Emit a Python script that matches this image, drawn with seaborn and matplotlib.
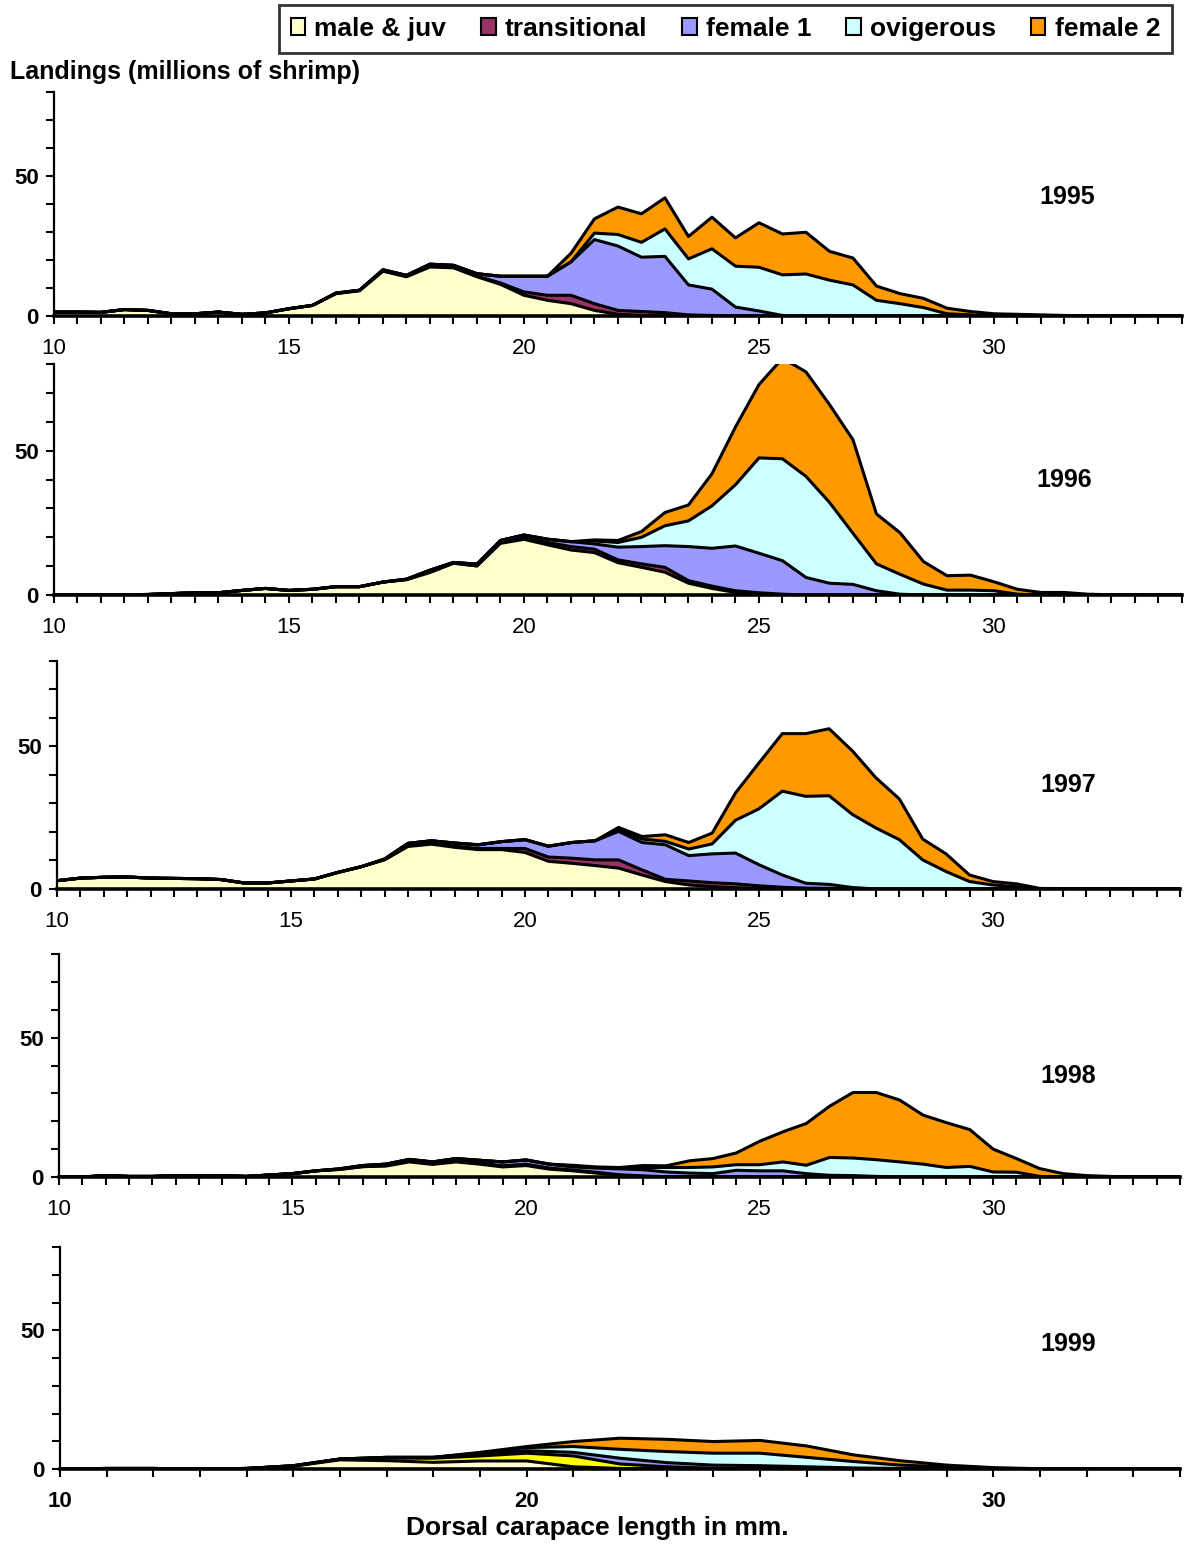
import numpy as np
import pandas as pd
import seaborn as sns
import matplotlib.pyplot as plt
from matplotlib.patches import Patch

sns.set_style('white')
plt.rcParams['font.family'] = ['Liberation Sans', 'DejaVu Sans']
plt.rcParams['text.color'] = 'black'
plt.rcParams['xtick.color'] = 'black'
plt.rcParams['ytick.color'] = 'black'

# carapace length classes (mm)
length = np.arange(10, 34.01, 0.5)
length_1999 = np.arange(10, 34.01, 1.0)

stages = ['male & juv', 'transitional', 'female 1', 'ovigerous', 'female 2']
colors = ['#FFFFCC', '#993366', '#9999FF', '#CCFFFF', '#FF9900']
colors_1999 = ['#FFFFCC', '#FFFF00', '#9999FF', '#CCFFFF', '#FF9900']

# landings, millions of shrimp
male_1995 = [1.4, 1.4, 1.3, 2.3, 2.0, 0.8, 0.8, 1.4, 0.6, 1.1,
             2.6, 3.8, 8.0, 9.0, 16.0, 14.0, 17.5, 17.2, 14.0, 11.3,
             7.4, 5.6, 4.4, 2.0, 0.6, 0.2, 0, 0, 0, 0,
             0, 0, 0, 0, 0, 0, 0, 0, 0, 0,
             0, 0, 0, 0, 0, 0, 0, 0, 0]
trans_1995 = [0, 0, 0, 0, 0, 0, 0, 0, 0, 0,
              0, 0, 0, 0.1, 0.2, 0.2, 0.3, 0.3, 0.3, 0.5,
              1.2, 1.8, 3.0, 2.4, 1.4, 1.4, 1.2, 0.4, 0.2, 0,
              0, 0, 0, 0, 0, 0, 0, 0, 0, 0,
              0, 0, 0, 0, 0, 0, 0, 0, 0]
fem1_1995 = [0, 0, 0, 0, 0, 0, 0, 0, 0, 0,
             0, 0, 0.2, 0.1, 0.3, 0.3, 0.7, 0.6, 0.8, 2.4,
             5.6, 6.8, 11.9, 22.9, 23.0, 19.4, 20.1, 10.7, 9.4, 3.2,
             1.8, 0.2, 0, 0, 0, 0, 0, 0, 0, 0,
             0, 0, 0, 0, 0, 0, 0, 0, 0]
ovig_1995 = [0, 0, 0, 0, 0, 0, 0, 0, 0, 0,
             0, 0, 0, 0, 0, 0, 0, 0, 0, 0,
             0, 0, 0, 2.3, 4.1, 5.3, 9.8, 9.3, 14.4, 14.6,
             15.6, 14.5, 15.0, 12.8, 11.1, 5.6, 4.4, 3.0, 0.8, 0.4,
             0, 0, 0, 0, 0, 0, 0, 0, 0]
fem2_1995 = [0, 0, 0, 0, 0, 0, 0, 0, 0, 0,
             0, 0, 0, 0, 0, 0, 0, 0, 0, 0,
             0, 0, 3.1, 5.1, 9.8, 10.2, 11.1, 8.0, 11.3, 10.1,
             15.9, 14.6, 14.9, 10.3, 9.6, 5.1, 3.6, 3.3, 2.0, 1.2,
             0.8, 0.6, 0.4, 0.2, 0.1, 0, 0, 0, 0]

male_1996 = [0, 0, 0, 0.1, 0.2, 0.5, 0.8, 0.8, 1.6, 2.3,
             1.6, 2.0, 2.9, 2.9, 4.5, 5.3, 7.8, 11.0, 10.1, 17.9,
             19.3, 17.4, 15.6, 14.7, 11.2, 9.6, 7.9, 4.1, 2.3, 0.9,
             0.2, 0, 0, 0, 0, 0, 0, 0, 0, 0,
             0, 0, 0, 0, 0, 0, 0, 0, 0]
trans_1996 = [0, 0, 0, 0, 0, 0, 0, 0, 0, 0,
              0, 0, 0, 0, 0, 0.1, 0.3, 0.1, 0, 0.3,
              0.5, 0.8, 1.2, 1.2, 1.0, 1.2, 1.7, 0.9, 0.8, 0.6,
              0.6, 0.3, 0, 0, 0, 0, 0, 0, 0, 0,
              0, 0, 0, 0, 0, 0, 0, 0, 0]
fem1_1996 = [0, 0, 0, 0, 0, 0, 0, 0, 0, 0,
             0, 0, 0, 0, 0, 0.1, 0.5, 0.2, 0.6, 0.7,
             1.0, 1.1, 1.7, 1.8, 4.4, 6.0, 7.5, 11.8, 13.1, 15.5,
             13.7, 11.6, 6.1, 4.1, 3.7, 1.5, 0.3, 0, 0, 0,
             0, 0, 0, 0, 0, 0, 0, 0, 0]
ovig_1996 = [0, 0, 0, 0, 0, 0, 0, 0, 0, 0,
             0, 0, 0, 0, 0, 0, 0, 0, 0, 0,
             0, 0, 0, 1.0, 1.6, 3.2, 6.9, 8.9, 14.7, 21.2,
             33.0, 35.3, 35.0, 28.0, 17.7, 9.3, 6.9, 3.8, 1.7, 1.7,
             1.5, 0.3, 0, 0, 0, 0, 0, 0, 0]
fem2_1996 = [0, 0, 0, 0, 0, 0, 0, 0, 0, 0,
             0, 0, 0, 0, 0, 0, 0, 0, 0, 0,
             0, 0.1, 0, 0.4, 0.7, 2.0, 4.6, 5.5, 11.1, 20.0,
             25.4, 34.8, 36.2, 33.9, 32.4, 17.3, 14.4, 7.8, 5.0, 5.2,
             3.1, 1.7, 0.9, 0.9, 0.3, 0.1, 0, 0, 0]

male_1997 = [2.9, 3.8, 4.1, 4.2, 3.8, 3.7, 3.6, 3.3, 2.1, 2.1,
             2.8, 3.5, 5.8, 7.8, 10.2, 14.9, 15.7, 14.6, 13.8, 13.8,
             12.8, 9.7, 9.0, 8.2, 7.3, 4.9, 2.6, 1.4, 0.8, 0.4,
             0.2, 0, 0, 0, 0, 0, 0, 0, 0, 0,
             0, 0, 0, 0, 0, 0, 0, 0, 0]
trans_1997 = [0, 0, 0, 0, 0, 0, 0, 0, 0, 0,
              0, 0, 0, 0, 0.1, 0.4, 0.4, 0.4, 0.4, 0.4,
              1.4, 1.5, 1.8, 2.0, 2.9, 1.8, 0.8, 1.4, 1.4, 1.4,
              0.9, 0.6, 0.3, 0.2, 0, 0, 0, 0, 0, 0,
              0, 0, 0, 0, 0, 0, 0, 0, 0]
fem1_1997 = [0, 0, 0, 0, 0, 0, 0, 0, 0, 0,
             0, 0, 0, 0, 0.2, 0.7, 0.8, 1.1, 1.3, 2.4,
             3.1, 3.8, 5.5, 6.7, 10.0, 9.6, 12.1, 8.9, 10.1, 10.8,
             7.4, 4.3, 1.7, 1.4, 0.5, 0, 0, 0, 0, 0,
             0, 0, 0, 0, 0, 0, 0, 0, 0]
ovig_1997 = [0, 0, 0, 0, 0, 0, 0, 0, 0, 0,
             0, 0, 0, 0, 0, 0, 0, 0, 0, 0,
             0, 0, 0, 0, 0.6, 1.2, 1.2, 2.3, 3.5, 11.5,
             19.6, 29.4, 30.5, 31.1, 25.6, 21.4, 17.3, 10.2, 6.1, 2.6,
             1.4, 0.8, 0, 0, 0, 0, 0, 0, 0]
fem2_1997 = [0, 0, 0, 0, 0, 0, 0, 0, 0, 0,
             0, 0, 0, 0, 0, 0, 0, 0, 0, 0,
             0, 0, 0, 0, 0.8, 0.9, 2.3, 2.3, 3.8, 9.6,
             16.1, 20.2, 22.0, 23.5, 22.3, 17.6, 14.3, 7.3, 6.2, 2.3,
             1.2, 1.0, 0.2, 0.1, 0, 0, 0, 0, 0]

male_1998 = [0, 0, 0.5, 0.2, 0.2, 0.5, 0.5, 0.5, 0.2, 0.7,
             1.2, 2.2, 2.7, 3.7, 3.9, 5.4, 4.5, 5.4, 4.6, 3.6,
             4.1, 2.8, 2.2, 1.4, 0.6, 0.2, 0, 0, 0, 0,
             0, 0, 0, 0, 0, 0, 0, 0, 0, 0,
             0, 0, 0, 0, 0, 0, 0, 0, 0]
trans_1998 = [0, 0, 0, 0, 0, 0, 0, 0, 0, 0,
              0, 0, 0, 0, 0.2, 0.3, 0.3, 0.4, 0.4, 0.4,
              0.5, 0.4, 0.3, 0.3, 0.2, 0.2, 0.1, 0, 0, 0,
              0, 0, 0, 0, 0, 0, 0, 0, 0, 0,
              0, 0, 0, 0, 0, 0, 0, 0, 0]
fem1_1998 = [0, 0, 0, 0, 0, 0, 0, 0, 0, 0,
             0, 0, 0.2, 0.4, 0.5, 0.6, 0.6, 0.8, 1.0, 1.4,
             1.5, 1.4, 1.1, 1.5, 2.1, 2.2, 1.7, 1.4, 1.2, 2.4,
             2.2, 2.2, 1.2, 0.6, 0.5, 0.2, 0, 0, 0, 0,
             0, 0, 0, 0, 0, 0, 0, 0, 0]
ovig_1998 = [0, 0, 0, 0, 0, 0, 0, 0, 0, 0,
             0, 0, 0, 0, 0, 0, 0, 0, 0, 0,
             0, 0, 0.3, 0.2, 0.3, 0.8, 1.6, 2.0, 2.4, 2.0,
             2.2, 3.2, 3.0, 6.4, 6.3, 6.0, 5.4, 4.6, 3.4, 3.8,
             1.8, 1.7, 0.2, 0, 0, 0, 0, 0, 0]
fem2_1998 = [0, 0, 0, 0, 0, 0, 0, 0, 0, 0,
             0, 0, 0, 0, 0, 0, 0, 0, 0, 0,
             0, 0, 0.3, 0.2, 0.2, 0.7, 0.6, 2.4, 3.0, 4.2,
             8.4, 10.8, 15.0, 18.4, 23.5, 24.1, 22.2, 17.6, 16.1, 13.2,
             8.2, 4.9, 2.8, 1.2, 0.5, 0.2, 0, 0, 0]

# 1999 is reported in 1 mm classes
male_1999 = [0, 0.2, 0.2, 0, 0.2, 1.0, 3.3, 3.0, 2.4, 2.9,
             2.9, 0.8, 0.2, 0, 0, 0, 0, 0, 0, 0,
             0, 0, 0, 0, 0]
trans_1999 = [0, 0, 0, 0, 0, 0.1, 0.3, 0.9, 1.5, 1.8,
              2.8, 3.9, 1.6, 0.8, 0.3, 0, 0, 0, 0, 0,
              0, 0, 0, 0, 0]
fem1_1999 = [0, 0, 0, 0, 0, 0.1, 0, 0.3, 0.3, 0.8,
             0.9, 1.3, 2.1, 1.5, 1.1, 1.2, 0.8, 0.4, 0.2, 0,
             0, 0, 0, 0, 0]
ovig_1999 = [0, 0, 0, 0, 0, 0, 0, 0, 0, 0.3,
             1.1, 2.1, 3.2, 4.0, 4.3, 4.5, 3.4, 2.3, 1.2, 0.8,
             0.2, 0, 0, 0, 0]
fem2_1999 = [0, 0, 0, 0, 0, 0, 0, 0, 0, 0.2,
             0.4, 1.8, 4.0, 4.4, 4.2, 4.6, 4.1, 2.4, 1.6, 0.6,
             0.3, 0.1, 0, 0, 0]

years = ['1995', '1996', '1997', '1998', '1999']
year_pos = [(31.55, 42.5), (31.5, 40.0), (31.6, 36.6), (31.6, 36.3), (31.6, 45.0)]

# axes rectangles in figure fraction (left, bottom, width, height)
rects = [(0.0455, 0.7956, 0.9511, 0.1449),
         (0.0455, 0.6151, 0.9511, 0.1494),
         (0.0481, 0.4250, 0.9469, 0.1475),
         (0.0497, 0.2387, 0.9452, 0.1442),
         (0.0506, 0.0498, 0.9444, 0.1436)]

panels = [
    (length, [male_1995, trans_1995, fem1_1995, ovig_1995, fem2_1995], colors),
    (length, [male_1996, trans_1996, fem1_1996, ovig_1996, fem2_1996], colors),
    (length, [male_1997, trans_1997, fem1_1997, ovig_1997, fem2_1997], colors),
    (length, [male_1998, trans_1998, fem1_1998, ovig_1998, fem2_1998], colors),
    (length_1999, [male_1999, trans_1999, fem1_1999, ovig_1999, fem2_1999], colors_1999),
]

fig = plt.figure(figsize=(11.86, 15.46), dpi=100)

for i, (x, series, cols) in enumerate(panels):
    ax = fig.add_axes(rects[i])
    df = pd.DataFrame(dict(zip(stages, series)), index=x)
    cum = df.cumsum(axis=1)
    lower = np.zeros(len(x))
    for st, c in zip(stages, cols):
        ax.fill_between(x, lower, cum[st].values, facecolor=c, edgecolor='none', zorder=1)
        lower = cum[st].values
    for st in stages:
        sns.lineplot(x=x, y=cum[st].values, ax=ax, color='black', lw=2.2, zorder=2)

    for s in ['top', 'right']:
        ax.spines[s].set_visible(False)
    ax.spines['left'].set_linewidth(1.6)
    ax.spines['bottom'].set_linewidth(2.6)
    ax.spines['left'].set_color('black')
    ax.spines['bottom'].set_color('black')

    ax.set_yticks([0, 50])
    ax.set_yticks(np.arange(10, 81, 10), minor=True)
    if i < 4:
        ax.set_xticks([10, 15, 20, 25, 30])
        ax.set_xticks(np.arange(10, 34.01, 0.5), minor=True)
        xw = 'normal'
    else:
        ax.set_xticks([10, 20, 30])
        ax.set_xticks(np.arange(10, 34.01, 1.0), minor=True)
        xw = 'bold'
    ax.set_xlim(10, 34)
    ax.set_ylim(0, 80)
    ax.tick_params(axis='both', which='both', direction='out', length=6,
                   width=1.5, color='black', left=True, bottom=True)
    ax.tick_params(axis='x', which='major', labelsize=16, pad=10)
    ax.tick_params(axis='y', which='major', labelsize=16, pad=5)
    for lab in ax.get_xticklabels():
        lab.set_fontweight(xw)
    for lab in ax.get_yticklabels():
        lab.set_fontweight('bold')
    ax.set_xlabel('')
    ax.set_ylabel('')
    ax.text(year_pos[i][0], year_pos[i][1], years[i], ha='center', va='center',
            fontsize=18, fontweight='bold')

fig.text(10 / 1186, 1 - 72 / 1546, 'Landings (millions of shrimp)', ha='left', va='center',
         fontsize=18, fontweight='bold')
fig.text(597 / 1186, 1 - 1528 / 1546, 'Dorsal carapace length in mm.', ha='center', va='center',
         fontsize=19, fontweight='bold')

handles = [Patch(facecolor=c, edgecolor='black', linewidth=1.5) for c in colors]
leg = fig.legend(handles, stages, loc='upper right', bbox_to_anchor=(1172 / 1186, 1 - 5 / 1546),
                 ncol=5, frameon=True, fancybox=False, edgecolor='black',
                 prop={'weight': 'bold', 'size': 19}, handlelength=0.55, handleheight=0.6,
                 handletextpad=0.35, columnspacing=1.32, borderpad=0.45, borderaxespad=0)
leg.get_frame().set_linewidth(2)

fig.savefig('out.png', dpi=100)
